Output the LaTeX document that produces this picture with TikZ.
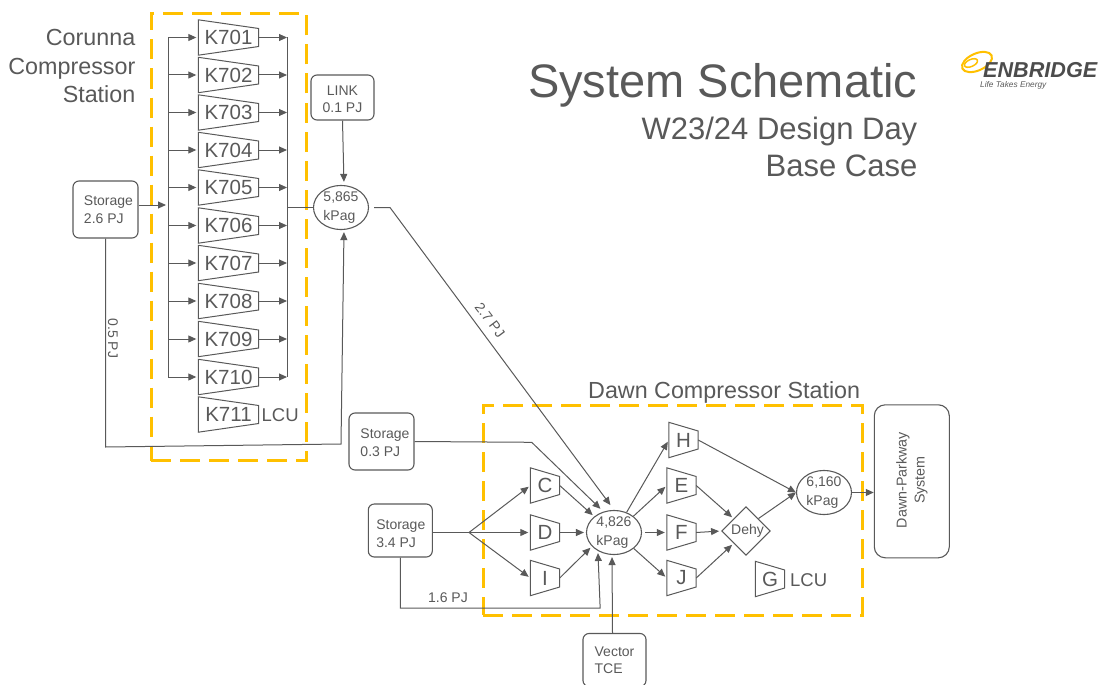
\documentclass[tikz,border=0pt]{standalone}
\usepackage{fontspec}
\setmainfont{Liberation Sans}
\usetikzlibrary{shapes,arrows.meta,positioning,calc}

\definecolor{chargray}{HTML}{595959}
\definecolor{stationyellow}{HTML}{FFC000}

\tikzset{
    trapline/.style={append after command={\pgfextra{\draw[draw=chargray, line width=1pt, line join=miter]
        (\tikzlastnode.north west) -- ([yshift=9pt]\tikzlastnode.east) -- ([yshift=-9pt]\tikzlastnode.east) -- (\tikzlastnode.south west) -- cycle;}}},
    kcomp/.style={trapline, inner sep=0pt, minimum width=60pt, minimum height=35pt, font=\fontsize{20.5}{24}\selectfont},
    lettercomp/.style={trapline, inner sep=0pt, minimum width=29pt, minimum height=35pt, font=\fontsize{20.5}{24}\selectfont},
    infobox/.style={draw=chargray, line width=1.1pt, rounded corners=6pt, align=left, font=\fontsize{14}{17.5}\selectfont, inner sep=0pt},
    hub/.style={ellipse, draw=chargray, line width=1.1pt, align=left, inner sep=0pt, minimum width=55pt, minimum height=38pt, font=\fontsize{14}{18.5}\selectfont},
    stationbox/.style={draw=stationyellow, line width=3pt, dash pattern=on 20pt off 9pt, inner sep=0pt},
    flow/.style={->, >={Triangle[length=8pt,width=7pt]}, draw=chargray, line width=1pt, shorten >=2pt},
    plainflow/.style={draw=chargray, line width=1pt},
}

\begin{document}
\begin{tikzpicture}[x=1pt, y=-1pt, every node/.append style={text=chargray}]
        \useasboundingbox (0,0) rectangle (1098,685);

        % Define station outlines and titles
        \node (corunnabox) [stationbox, minimum width=155pt, minimum height=447pt] at (228.5,237) {};
        \node (dawnbox) [stationbox, minimum width=379pt, minimum height=210pt] at (672.5,510) {};
        \node (corunnatitle) [align=right, anchor=east, font=\fontsize{23.3}{28.5}\selectfont, inner sep=0pt] at (135.5,66) {Corunna\\Compressor\\Station};
        \node (dawntitle) [anchor=west, font=\fontsize{23.3}{28}\selectfont, inner sep=0pt] at (588,392) {Dawn Compressor Station};
        \node (maintitle) [anchor=base east, font=\fontsize{47}{56}\selectfont, inner sep=0pt] at (917.5,98) {System Schematic};
        \node (subtitle) [anchor=base east, font=\fontsize{31}{37}\selectfont, inner sep=0pt] at (917.5,139) {W23/24 Design Day};
        \node (casetitle) [anchor=base east, font=\fontsize{31}{37}\selectfont, inner sep=0pt] at (917.5,176) {Base Case};

        % Define logo
        \draw[stationyellow, line width=2pt, rotate around={24:(977,62)}] (977,62) ellipse (16pt and 8.5pt);
        \draw[stationyellow, line width=1.5pt, rotate around={24:(971,63)}] (971,63) ellipse (7pt and 3.5pt);
        \node (logoname) [anchor=base west, font=\bfseries\itshape\fontsize{21.6}{26}\selectfont, inner sep=0pt, text=chargray!85!black] at (983,77.5) {ENBRIDGE};
        \node (logotag) [anchor=west, font=\itshape\fontsize{8.3}{10}\selectfont, inner sep=0pt] at (980,85.5) {Life Takes Energy};

        % Define Corunna nodes
        \node (k701) [kcomp] at (228.5,37.5) {K701};
        \node (k702) [kcomp] at (228.5,75) {K702};
        \node (k703) [kcomp] at (228.5,112.5) {K703};
        \node (k704) [kcomp] at (228.5,150) {K704};
        \node (k705) [kcomp] at (228.5,187.5) {K705};
        \node (k706) [kcomp] at (228.5,225.5) {K706};
        \node (k707) [kcomp] at (228.5,263) {K707};
        \node (k708) [kcomp] at (228.5,301) {K708};
        \node (k709) [kcomp] at (228.5,339) {K709};
        \node (k710) [kcomp] at (228.5,377) {K710};
        \node (k711) [kcomp] at (228.5,414.5) {K711};
        \node (k711lcu) [anchor=west, inner sep=0pt, font=\fontsize{18.5}{22}\selectfont] at (261.5,415) {LCU};
        \node (store26) [infobox, minimum width=65pt, minimum height=57pt] at (105.5,209.5) {\hspace*{6pt}Storage\\\hspace*{6pt}2.6 PJ};
        \node (link) [infobox, align=center, minimum width=63pt, minimum height=45pt] at (342.5,97.5) {\rule{0pt}{13pt}LINK\\0.1 PJ};
        \node (hubcorunna) [hub] at (341,207.5) {5,865\\kPag};
        \coordinate (busleft) at (168,205);
        \coordinate (busright) at (287,207.5);
        \coordinate (bendpipe) at (390,207.5);
        \coordinate (bendlow) at (105.5,447);
        \coordinate (bendup) at (341,444);

        % Define Dawn nodes
        \node (c) [lettercomp] at (545,485.5) {C};
        \node (d) [lettercomp] at (545,532.5) {D};
        \node (i) [lettercomp] at (545,578) {I};
        \node (h) [lettercomp] at (683.5,440) {H};
        \node (e) [lettercomp] at (681.5,485.5) {E};
        \node (f) [lettercomp] at (681.5,532.5) {F};
        \node (j) [lettercomp] at (681.5,578) {J};
        \node (g) [lettercomp] at (770,579) {G};
        \node (glcu) [anchor=west, inner sep=0pt, font=\fontsize{18.5}{22}\selectfont] at (790,580) {LCU};
        \node (store03) [infobox, minimum width=65pt, minimum height=57pt] at (381.5,441.5) {\hspace*{7pt}\rule{0pt}{12pt}Storage\\\hspace*{7pt}0.3 PJ};
        \node (store34) [infobox, minimum width=64pt, minimum height=53pt] at (400.3,530.5) {\hspace*{1pt}\rule{0pt}{16pt}Storage\\\hspace*{1pt}3.4 PJ};
        \node (vector) [infobox, minimum width=63pt, minimum height=53pt] at (614.5,660) {Vector\\TCE};
        \node (hubdawn) [hub] at (614,532.5) {4,826\\kPag};
        \node (huboutlet) [hub] at (824,492.5) {6,160\\kPag};
        \node (dehy) [diamond, draw=chargray, line width=1.1pt, inner sep=0pt, minimum width=48pt, minimum height=39pt, font=\fontsize{14}{17}\selectfont] at (746,531) {\hspace*{3pt}Dehy};
        \node (parkway) [draw=chargray, line width=1.1pt, rounded corners=11pt, minimum width=75pt, minimum height=153pt] at (911.8,481.3) {};
        \node (parkwaytext) [rotate=90, align=center, inner sep=0pt, font=\fontsize{14.3}{18}\selectfont] at (911.8,480) {Dawn-Parkway\\System};
        \coordinate (fan) at (469,532.5);
        \coordinate (bend03) at (531.7,442.3);
        \coordinate (bend16) at (400.3,608);
        \coordinate (bend16up) at (600.15,608);

        % Draw Corunna arrows
        \draw[plainflow] (busleft |- k701) -- (busleft |- k710);
        \draw[plainflow] (busright |- k701) -- (busright |- k710);
        \draw[flow] (busleft |- k701) -- (k701.west);
        \draw[flow] (busleft |- k702) -- (k702.west);
        \draw[flow] (busleft |- k703) -- (k703.west);
        \draw[flow] (busleft |- k704) -- (k704.west);
        \draw[flow] (busleft |- k705) -- (k705.west);
        \draw[flow] (busleft |- k706) -- (k706.west);
        \draw[flow] (busleft |- k707) -- (k707.west);
        \draw[flow] (busleft |- k708) -- (k708.west);
        \draw[flow] (busleft |- k709) -- (k709.west);
        \draw[flow] (busleft |- k710) -- (k710.west);
        \draw[flow, shorten >=0pt] (k701.east) -- (busright |- k701);
        \draw[flow, shorten >=0pt] (k702.east) -- (busright |- k702);
        \draw[flow, shorten >=0pt] (k703.east) -- (busright |- k703);
        \draw[flow, shorten >=0pt] (k704.east) -- (busright |- k704);
        \draw[flow, shorten >=0pt] (k705.east) -- (busright |- k705);
        \draw[flow, shorten >=0pt] (k706.east) -- (busright |- k706);
        \draw[flow, shorten >=0pt] (k707.east) -- (busright |- k707);
        \draw[flow, shorten >=0pt] (k708.east) -- (busright |- k708);
        \draw[flow, shorten >=0pt] (k709.east) -- (busright |- k709);
        \draw[flow, shorten >=0pt] (k710.east) -- (busright |- k710);
        \draw[flow] ([yshift=4.5pt]store26.east) -- (busleft);
        \draw[plainflow] (busright) -- (hubcorunna.west);
        \draw[flow, shorten >=3pt] (link.south) -- ([xshift=3pt]hubcorunna.north);
        \draw[flow] (store26.south) -- (bendlow) -- (bendup) -- ([xshift=3pt]hubcorunna.south);
        \node (label05) [rotate=-90, inner sep=0pt, font=\fontsize{14}{17}\selectfont] at (113,338.5) {0.5 PJ};

        % Draw Dawn arrows
        \draw[flow, shorten <=5pt, shorten >=6pt] (hubcorunna.east) -- (bendpipe) -- (hubdawn.north);
        \node (label27) [rotate=-53, inner sep=0pt, font=\fontsize{14}{17}\selectfont] at (490,320) {2.7 PJ};
        \draw[flow, shorten >=4pt] (store03.east) -- (bend03) -- (hubdawn.117);
        \draw[plainflow] ([yshift=-2pt]store34.east) -- (fan);
        \draw[flow] (fan) -- (c.west);
        \draw[flow] (fan) -- (d.west);
        \draw[flow] (fan) -- (i.west);
        \draw[flow] (store34.south) -- (bend16) -- (bend16up) -- (hubdawn.229);
        \node (label16) [inner sep=0pt, font=\fontsize{14}{17}\selectfont] at (448,598) {1.6 PJ};
        \draw[flow] ([xshift=-2pt]vector.north) -- ([xshift=-2pt]hubdawn.south);
        \draw[flow] (c.east) -- (hubdawn.141);
        \draw[flow] (d.east) -- (hubdawn.west);
        \draw[flow] (i.east) -- (hubdawn.212);
        \draw[flow, shorten >=2pt] (hubdawn.58) -- (h.west);
        \draw[flow] (hubdawn.40) -- (e.west);
        \draw[flow, shorten <=3pt] (hubdawn.east) -- (f.west);
        \draw[flow] (hubdawn.-39) -- (j.west);
        \draw[flow, shorten >=0pt] (h.east) -- (huboutlet.west);
        \draw[flow] (e.east) -- (dehy.north west);
        \draw[flow] (f.east) -- (dehy.west);
        \draw[flow] (j.east) -- (dehy.south west);
        \draw[flow, shorten >=0pt] (dehy.north east) -- (huboutlet.west);
        \draw[flow, shorten >=0pt] (huboutlet.east) -- (parkway.west |- huboutlet);
    \end{tikzpicture}
\end{document}
